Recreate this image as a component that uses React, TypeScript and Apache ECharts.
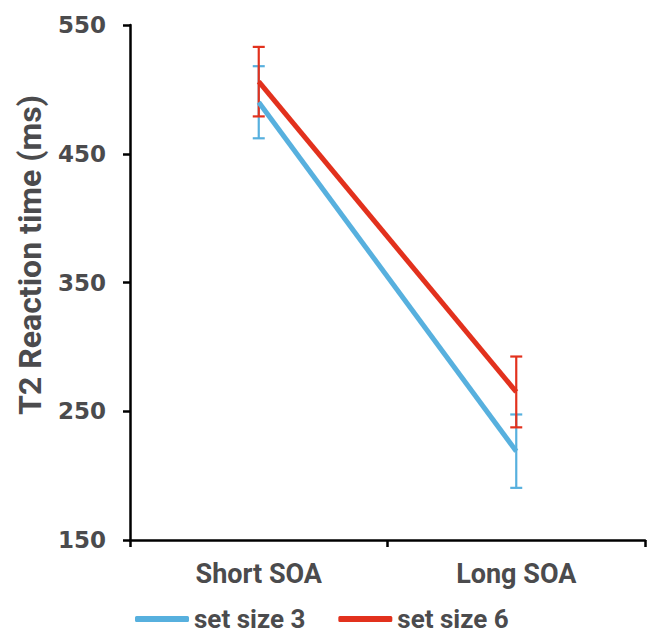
import React, { useEffect, useRef } from "react";
import * as echarts from "echarts";

const categories = ["Short SOA", "Long SOA"];
const seriesNames = ["set size 3", "set size 6"];
const setSize3 = [490, 219];
const setSize6 = [506, 265];
const err3 = [28, 28.5];
const err6 = [27, 27.5];
const colors = ["#57b0de", "#e2311d"];
const yTicks = { min: 150, max: 550, interval: 100 };

const textColor = "#4b4b4d";

export default function App() {
  const ref = useRef<HTMLDivElement>(null);
  useEffect(() => {
    if (!ref.current) return;
    const chart = echarts.init(ref.current, null, { renderer: "svg" });
    const errSeries = (name: string, vals: number[], errs: number[], color: string, z: number) => ({
      type: "custom",
      name: name + " error",
      z,
      silent: true,
      data: vals.map((v, i) => [i, v - errs[i], v + errs[i]]),
      encode: { x: 0, y: [1, 2] },
      renderItem: (params: any, api: any) => {
        const lo = api.coord([api.value(0), api.value(1)]);
        const hi = api.coord([api.value(0), api.value(2)]);
        const x = lo[0];
        const hw = 6;
        const style = { stroke: color, lineWidth: 2.2 };
        return {
          type: "group",
          children: [
            { type: "line", shape: { x1: x, y1: lo[1], x2: x, y2: hi[1] }, style },
            { type: "line", shape: { x1: x - hw, y1: lo[1], x2: x + hw, y2: lo[1] }, style },
            { type: "line", shape: { x1: x - hw, y1: hi[1], x2: x + hw, y2: hi[1] }, style },
          ],
        };
      },
    });
    chart.setOption({
      animation: false,
      grid: { left: 130, right: 2, top: 25, bottom: 102 },
      legend: {
        data: seriesNames,
        left: 135,
        top: 606,
        padding: 0,
        icon: "roundRect",
        itemWidth: 54,
        itemHeight: 6,
        itemGap: 33,
        textStyle: {
          fontFamily: "Roboto",
          fontWeight: "bold",
          fontSize: 26,
          color: textColor,
        },
      },
      graphic: [
        {
          type: "text",
          x: 30,
          y: 255,
          rotation: Math.PI / 2,
          style: {
            text: "T2 Reaction time (ms)",
            fontFamily: "Roboto",
            fontWeight: "bold",
            fontSize: 32,
            fill: textColor,
            align: "center",
            verticalAlign: "middle",
          },
        },
      ],
      xAxis: {
        type: "category",
        data: categories,
        boundaryGap: true,
        axisLine: { lineStyle: { color: "#000", width: 2.5 } },
        axisTick: { show: true, length: 7, lineStyle: { color: "#000", width: 2.5 } },
        axisLabel: {
          margin: 20,
          fontFamily: "Roboto",
          fontWeight: "bold",
          fontSize: 27,
          color: textColor,
        },
        splitLine: { show: false },
      },
      yAxis: {
        type: "value",
        min: yTicks.min,
        max: yTicks.max,
        interval: yTicks.interval,
        axisLine: { show: true, lineStyle: { color: "#000", width: 2.5 } },
        axisTick: { show: true, length: 7, lineStyle: { color: "#000", width: 2.5 } },
        axisLabel: {
          margin: 24,
          fontFamily: "DejaVu Sans",
          fontWeight: "bold",
          fontSize: 23,
          color: textColor,
        },
        splitLine: { show: false },
      },
      series: [
        errSeries(seriesNames[0], setSize3, err3, colors[0], 1),
        errSeries(seriesNames[1], setSize6, err6, colors[1], 2),
        {
          type: "line",
          name: seriesNames[0],
          data: setSize3,
          color: colors[0],
          symbol: "none",
          lineStyle: { width: 5, color: colors[0] },
          z: 3,
        },
        {
          type: "line",
          name: seriesNames[1],
          data: setSize6,
          color: colors[1],
          symbol: "none",
          lineStyle: { width: 5, color: colors[1] },
          z: 4,
        },
      ],
    });
    return () => chart.dispose();
  }, []);
  return (
    <div
      ref={ref}
      style={{ position: "fixed", left: 0, top: 0, width: 647, height: 642, background: "#fff" }}
    />
  );
}
